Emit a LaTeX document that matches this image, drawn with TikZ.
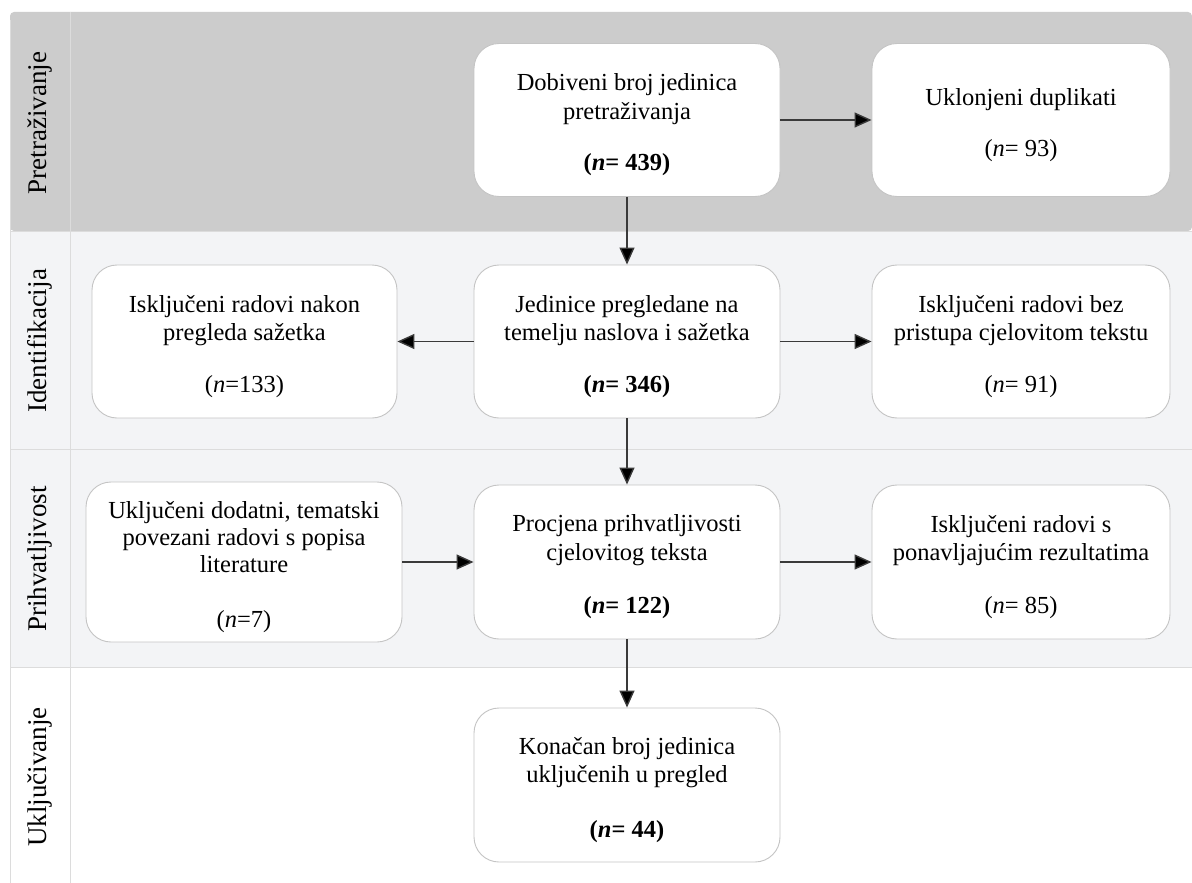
\documentclass[tikz,border=0pt]{standalone}
\usepackage{fontspec}
\setmainfont{Liberation Serif}
\usetikzlibrary{arrows.meta}
\definecolor{laneA}{HTML}{CCCCCC}
\definecolor{laneB}{HTML}{F3F4F6}
\definecolor{laneline}{HTML}{DCDCDC}
\definecolor{boxline}{HTML}{C4C4C4}
\definecolor{arrowcol}{HTML}{3A3A3A}
\newcommand{\topgap}{\rule{0pt}{27pt}}
\tikzset{
  stagebox/.style={draw=boxline, line width=0.9pt, fill=white, rounded corners=25pt,
    minimum width=306pt, minimum height=153pt, align=center, inner sep=0pt,
    font=\fontsize{24.5}{28.5}\selectfont},
  lanelabel/.style={rotate=90, font=\fontsize{27}{30}\selectfont, inner sep=0pt},
  flow/.style={draw=arrowcol, line width=1.4pt, -{Triangle[length=17pt,width=15pt,fill=black]}},
}
\begin{document}
\begin{tikzpicture}[x=1pt,y=-1pt]
\useasboundingbox (0,0) rectangle (1192,883);
\fill[white] (0,0) rectangle (1192,883);
% lanes
\fill[laneA, rounded corners=4pt] (10,12) -- (1192,12) -- (1192,231) -- (10,231) -- cycle;
\fill[laneB] (10,231) rectangle (1192,449);
\fill[laneB] (10,449) rectangle (1192,667);
\draw[laneline, line width=1pt] (10,20) -- (10,883);
\draw[laneline, line width=1pt] (70,12) -- (70,883);
\draw[laneline, line width=1pt] (10,231) -- (1192,231);
\draw[laneline, line width=1pt] (10,449) -- (1192,449);
\draw[laneline, line width=1pt] (10,667) -- (1192,667);
% lane labels
\node[lanelabel] (l1) at (40,123) {Pretraživanje};
\node[lanelabel] (l2) at (40,341) {Identifikacija};
\node[lanelabel] (l3) at (40,559) {Prihvatljivost};
\node[lanelabel] (l4) at (40,777) {Uključivanje};
% boxes
\node[stagebox] (a) at (627,120) {\topgap Dobiveni broj jedinica\\pretraživanja\\[23pt]\textbf{(\textit{n}= 439)}};
\node[stagebox, minimum width=298pt] (b) at (1021,120) {\topgap Uklonjeni duplikati\\[23pt](\textit{n}= 93)};
\node[stagebox, minimum width=305pt] (l) at (244.5,341.5) {\topgap Isključeni radovi nakon\\pregleda sažetka\\[23pt](\textit{n}=133)};
\node[stagebox] (c) at (627,341.5) {\topgap Jedinice pregledane na\\temelju naslova i sažetka\\[23pt]\textbf{(\textit{n}= 346)}};
\node[stagebox, minimum width=298pt] (r) at (1021,341.5) {\topgap Isključeni radovi bez\\pristupa cjelovitom tekstu\\[23pt](\textit{n}= 91)};
\node[stagebox, minimum width=316pt, minimum height=160pt, font=\fontsize{24.5}{27}\selectfont] (l3b) at (244,562) {\topgap Uključeni dodatni, tematski\\povezani radovi s popisa\\literature\\[28pt](\textit{n}=7)};
\node[stagebox, minimum height=154pt] (c3) at (627,562) {\topgap Procjena prihvatljivosti\\cjelovitog teksta\\[25pt]\textbf{(\textit{n}= 122)}};
\node[stagebox, minimum width=298pt, minimum height=154pt] (r3) at (1021,562) {\topgap Isključeni radovi s\\ponavljajućim rezultatima\\[24pt](\textit{n}= 85)};
\node[stagebox, minimum height=154pt] (f) at (627,785) {\topgap Konačan broj jedinica\\uključenih u pregled\\[26pt]\textbf{(\textit{n}= 44)}};
% connectors
\draw[flow] (a) -- (b);
\draw[flow] (a) -- (c);
\draw[flow] (c) -- (l);
\draw[flow] (c) -- (r);
\draw[flow] (c) -- (c3);
\draw[flow] (l3b.east |- c3) -- (c3);
\draw[flow] (c3) -- (r3);
\draw[flow] (c3) -- (f);
\end{tikzpicture}
\end{document}
